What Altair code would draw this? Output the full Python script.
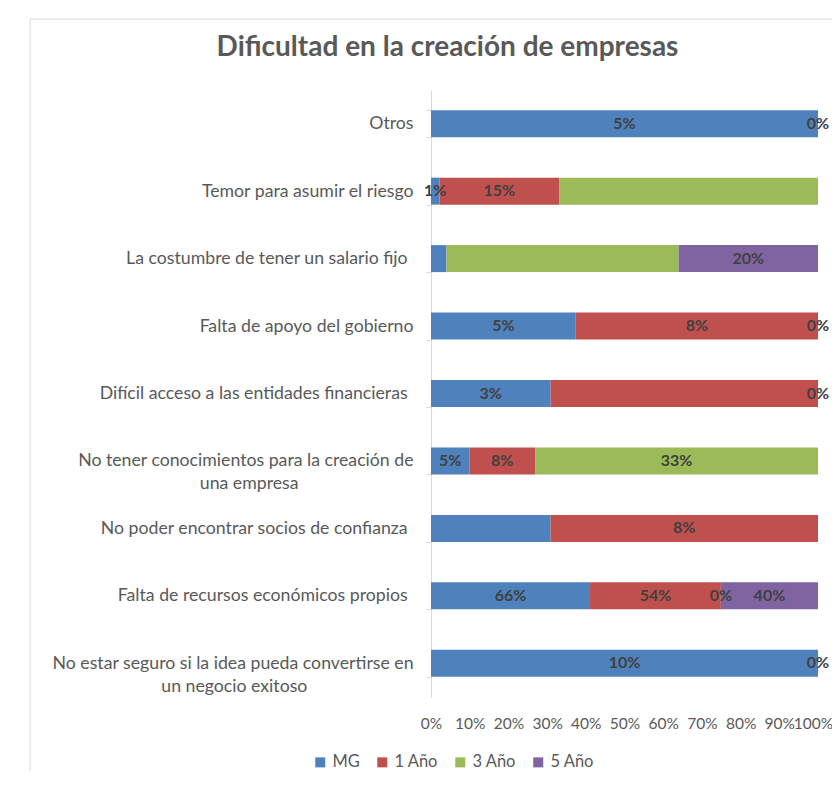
import altair as alt
import pandas as pd

EM = "\u2003"
EN = "\u2002"
THIN = "\u2004"
ZWJ = "\u200d"
categories = [
    "Otros",
    "Temor para asumir el riesgo",
    "La costumbre de tener un salario fijo" + THIN + ZWJ,
    "Falta de apoyo del gobierno",
    "Difícil acceso a las entidades financieras" + THIN + ZWJ,
    "No tener conocimientos para la creación  de|una empresa" + EM * 8 + EN + ZWJ,
    "No poder encontrar socios de confianza" + THIN + ZWJ,
    "Falta de recursos económicos propios" + THIN + ZWJ,
    "No estar seguro si la idea pueda  convertirse en|un negocio exitoso" + EM * 8 + ZWJ,
]
series = ["MG", "1 Año", "3 Año", "5 Año"]
colors = ["#4F81BD", "#C0504D", "#9BBB59", "#8064A2"]

# share of each bar's length (%) per series
mg = [100.0, 2.2, 4.0, 37.4, 30.9, 9.9, 30.9, 41.1, 100.0]
ano1 = [0.0, 30.9, 0.0, 62.6, 69.1, 17.0, 69.1, 33.8, 0.0]
ano3 = [0.0, 66.9, 60.0, 0.0, 0.0, 73.1, 0.0, 0.0, 0.0]
ano5 = [0.0, 0.0, 36.0, 0.0, 0.0, 0.0, 0.0, 25.1, 0.0]

# data labels printed on the segments
mg_lbl = ["5%", "1%", "", "5%", "3%", "5%", "", "66%", "10%"]
ano1_lbl = ["0%", "15%", "", "8%", "", "8%", "8%", "54%", "0%"]
ano3_lbl = ["", "", "", "0%", "0%", "33%", "", "0%", ""]
ano5_lbl = ["", "", "20%", "", "", "", "", "40%", ""]

x_ticks = [0, 0.1, 0.2, 0.3, 0.4, 0.5, 0.6, 0.7, 0.8, 0.9, 1.0]
title_text = "Dificultad en la creación de empresas"

rows = []
for s_i, (s, vals, lbls) in enumerate(zip(series, [mg, ano1, ano3, ano5],
                                          [mg_lbl, ano1_lbl, ano3_lbl, ano5_lbl])):
    for c, v, l in zip(categories, vals, lbls):
        rows.append({"category": c, "series": s, "order": s_i, "value": v, "label": l})
df = pd.DataFrame(rows)

FONT = "Lato"
GREY = "#595959"

base = (
    alt.Chart(df)
    .transform_joinaggregate(total="sum(value)", groupby=["category"])
    .transform_window(cum="sum(value)", groupby=["category"],
                      sort=[alt.SortField("order")], frame=[None, 0])
    .transform_calculate(
        x1="(datum.cum - datum.value) / datum.total",
        x2="datum.cum / datum.total",
        mid="(datum.cum - datum.value / 2) / datum.total",
    )
)

y_axis = alt.Axis(
    title=None,
    labelExpr="split(datum.label, '|')",
    labelFont=FONT,
    labelFontSize=17.7,
    labelColor=GREY,
    labelLineHeight=23,
    labelPadding=13,
    labelLimit=600,
    domainColor="#D9D9D9",
    tickColor="#D9D9D9",
    tickSize=5,
    tickBand="extent",
    grid=False,
)
y_scale = alt.Scale(paddingInner=0.6, paddingOuter=0.3)

x_axis = alt.Axis(
    title=None,
    values=x_ticks,
    format=".0%",
    labelFont=FONT,
    labelFontSize=15.5,
    labelColor=GREY,
    labelPadding=19,
    labelFlush=False,
    labelOverlap=False,
    labelOffset={"condition": {"test": "datum.value == 1", "value": -5}, "value": 0},
    domain=False,
    ticks=False,
    grid=False,
)
x_scale = alt.Scale(domain=[0, 1])

bars = base.transform_filter("datum.value > 0").mark_bar().encode(
    y=alt.Y("category:N", sort=categories, scale=y_scale, axis=y_axis),
    x=alt.X("x1:Q", scale=x_scale, axis=x_axis),
    x2="x2:Q",
    color=alt.Color(
        "series:N",
        sort=series,
        scale=alt.Scale(domain=series, range=colors),
        legend=alt.Legend(
            title=None,
            orient="none",
            direction="horizontal",
            legendX=-119,
            legendY=664,
            symbolType="square",
            symbolSize=100,
            symbolStrokeWidth=0,
            labelFont=FONT,
            labelFontSize=16.5,
            labelColor=GREY,
            labelOffset=4,
            columnPadding=14,
        ),
    ),
)

text = base.transform_filter("datum.label != ''").mark_text(
    font=FONT, fontSize=16, fontWeight="bold", color="#404040", baseline="middle"
).encode(
    y=alt.Y("category:N", sort=categories, scale=y_scale, axis=y_axis),
    x=alt.X("mid:Q", scale=x_scale, axis=x_axis),
    text="label:N",
)

border = alt.Chart(pd.DataFrame({"a": [0]})).mark_rect(
    fillOpacity=0, stroke="#D9D9D9", strokeWidth=1
).encode(
    x=alt.value(-401), x2=alt.value(900), y=alt.value(-71), y2=alt.value(900)
)

title = alt.Chart(pd.DataFrame({"t": [title_text]})).mark_text(
    font=FONT, fontSize=28, fontWeight="bold", color=GREY,
    align="center", baseline="alphabetic",
).encode(
    text="t:N", x=alt.value(16.5), y=alt.value(-34.5)
)

chart = (
    alt.layer(border, title, bars, text)
    .properties(
        width=387,
        height=607,
        padding={"left": 423, "top": 82, "right": 14, "bottom": 74},
        autosize=alt.AutoSizeParams(type="none"),
    )
    .configure_view(strokeWidth=0)
)

chart.save("out.html", embed_options={"renderer": "svg", "actions": False})
